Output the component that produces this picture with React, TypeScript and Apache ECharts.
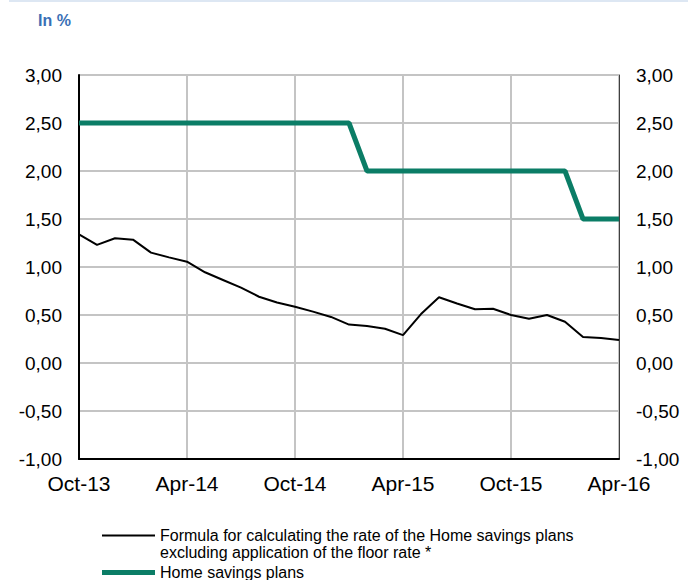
import React, { useEffect, useRef } from "react";
import * as echarts from "echarts";

const months = [
  "Oct-13", "Nov-13", "Dec-13", "Jan-14", "Feb-14", "Mar-14", "Apr-14", "May-14",
  "Jun-14", "Jul-14", "Aug-14", "Sep-14", "Oct-14", "Nov-14", "Dec-14", "Jan-15",
  "Feb-15", "Mar-15", "Apr-15", "May-15", "Jun-15", "Jul-15", "Aug-15", "Sep-15",
  "Oct-15", "Nov-15", "Dec-15", "Jan-16", "Feb-16", "Mar-16", "Apr-16",
];

const formulaRate = [
  1.34, 1.23, 1.3, 1.285, 1.15, 1.1, 1.055, 0.945,
  0.865, 0.785, 0.69, 0.63, 0.585, 0.535, 0.48, 0.4,
  0.385, 0.357, 0.29, 0.51, 0.685, 0.62, 0.56, 0.565,
  0.5, 0.46, 0.5, 0.43, 0.27, 0.26, 0.24,
];

const homeSavings = [
  2.5, 2.5, 2.5, 2.5, 2.5, 2.5, 2.5, 2.5,
  2.5, 2.5, 2.5, 2.5, 2.5, 2.5, 2.5, 2.5,
  2.0, 2.0, 2.0, 2.0, 2.0, 2.0, 2.0, 2.0,
  2.0, 2.0, 2.0, 2.0, 1.5, 1.5, 1.5,
];

const seriesNames = [
  "Formula for calculating the rate of the Home savings plans\nexcluding application of the floor rate *",
  "Home savings plans",
];

const FONT = "'Liberation Sans', Arial, sans-serif";
const GREEN = "#0b7d66";

export default function App() {
  const ref = useRef<HTMLDivElement>(null);
  useEffect(() => {
    if (!ref.current) return;
    const chart = echarts.init(ref.current, null, { renderer: "svg" });
    const fmt = (v: number) => v.toFixed(2).replace(".", ",");
    const yAxisBase = {
      type: "value",
      min: -1,
      max: 3,
      interval: 0.5,
      axisTick: { show: false },
      axisLabel: { formatter: fmt, color: "#000", fontSize: 19, fontFamily: FONT, margin: 17 },
    };
    chart.setOption({
      animation: false,
      textStyle: { fontFamily: FONT },
      grid: {
        left: 79,
        right: 69,
        top: 75,
        bottom: 121,
        show: true,
        borderColor: "#404040",
        borderWidth: 1,
      },
      graphic: [
        {
          type: "rect",
          shape: { x: 9, y: 0, width: 679, height: 2 },
          style: { fill: "#dde7f3" },
        },
        {
          type: "text",
          x: 38,
          y: 12,
          style: { text: "In %", fill: "#3a6fb5", font: `bold 16px ${FONT}` },
        },
      ],
      legend: [
        {
          data: [seriesNames[0]],
          left: 102,
          top: 510,
          padding: 0,
          icon: "rect",
          itemWidth: 53,
          itemHeight: 2,
          itemGap: 0,
          formatter: (name: string) => {
            const [l1, l2] = name.split("\n");
            return `{s| }\n{t|${l1}}\n{t|${l2}}`;
          },
          textStyle: {
            fontSize: 16,
            color: "#000",
            fontFamily: FONT,
            lineHeight: 17,
            rich: {
              s: { fontSize: 16, lineHeight: 17, fontFamily: FONT },
              t: { fontSize: 16, lineHeight: 17, fontFamily: FONT, color: "#000" },
            },
          },
          selectedMode: false,
        },
        {
          data: [seriesNames[1]],
          left: 102,
          top: 564,
          padding: 0,
          icon: "rect",
          itemWidth: 53,
          itemHeight: 5,
          textStyle: { fontSize: 16, color: "#000", fontFamily: FONT, lineHeight: 17 },
          selectedMode: false,
        },
      ],
      xAxis: {
        type: "category",
        data: months,
        boundaryGap: false,
        axisLine: { onZero: false, lineStyle: { color: "#000", width: 2 } },
        axisTick: { show: false },
        axisLabel: { interval: 5, color: "#000", fontSize: 21, fontFamily: FONT, margin: 14 },
        splitLine: { show: true, interval: 5, lineStyle: { color: "#c4c4c4", width: 2 } },
      },
      yAxis: [
        {
          ...yAxisBase,
          position: "left",
          axisLine: { show: true, onZero: false, lineStyle: { color: "#000", width: 2 } },
          splitLine: { show: true, lineStyle: { color: "#c4c4c4", width: 2 } },
        },
        {
          ...yAxisBase,
          position: "right",
          axisLine: { show: true, onZero: false, lineStyle: { color: "#404040", width: 1 } },
          splitLine: { show: false },
        },
      ],
      series: [
        {
          name: seriesNames[0],
          type: "line",
          data: formulaRate,
          symbol: "none",
          lineStyle: { color: "#000", width: 2 },
          itemStyle: { color: "#000" },
          z: 3,
        },
        {
          name: seriesNames[1],
          type: "line",
          data: homeSavings,
          symbol: "none",
          lineStyle: { color: GREEN, width: 5 },
          itemStyle: { color: GREEN },
          z: 4,
        },
      ],
    });
    return () => chart.dispose();
  }, []);
  return (
    <div
      ref={ref}
      style={{ position: "absolute", left: 0, top: 0, width: 688, height: 580 }}
    />
  );
}
